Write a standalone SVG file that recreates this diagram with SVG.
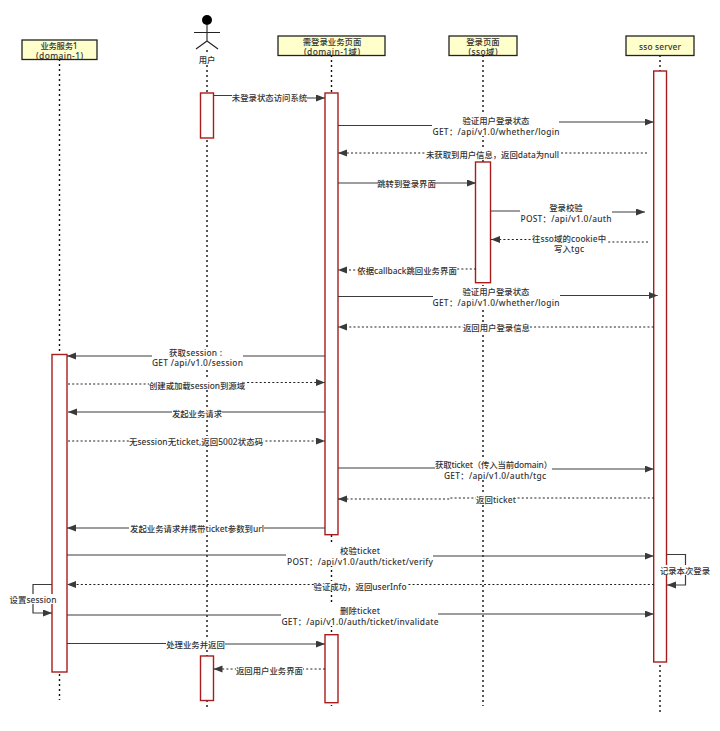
<svg xmlns="http://www.w3.org/2000/svg" width="720" height="731" viewBox="0 0 720 731">
<style>
text{font-family:"Noto Sans","Noto Sans CJK SC",sans-serif;font-size:8.4px;fill:#333;text-anchor:middle;dominant-baseline:central;font-weight:500}
.box{fill:#ffffcc;stroke:#222;stroke-width:1.3}
.life{stroke:#111;stroke-width:1.4;stroke-dasharray:2 3;fill:none}
.act{fill:#fff;stroke:#a81c1c;stroke-width:1.4}
.m{fill:none;stroke:#3c3c3c;stroke-width:1.2}
.a{marker-end:url(#arr)}
.d{stroke-dasharray:2 2.2;stroke:#222}
.bg{fill:#fff}
</style>
<defs>
<marker id="arr" markerUnits="userSpaceOnUse" markerWidth="10" markerHeight="8" refX="9" refY="3.5" orient="auto"><path d="M0 0L9 3.5L0 7Z" fill="#3a3a3a"/></marker>
</defs>
<g id="service1">
<line class="life" x1="59.5" y1="59" x2="59.5" y2="700"/>
<rect class="box" x="22" y="40" width="75" height="19.5"/>
<text x="59" y="45" textLength="37">业务服务1</text><text x="59.5" y="55" textLength="47">(domain-1)</text>
<rect class="act" x="52" y="354.5" width="15" height="317.5"/>
</g>
<g id="user">
<line class="life" x1="207" y1="50" x2="207" y2="707"/>
<circle cx="207" cy="20" r="5" fill="#000"/>
<path d="M207 25V41M194 32.5H220M196 49L207 41L218 49" fill="none" stroke="#222" stroke-width="1.1"/>
<rect class="bg" x="197" y="54" width="20" height="10"/><text x="207" y="59">用户</text>
<rect class="act" x="200.5" y="93" width="13" height="45"/>
<rect class="act" x="200.5" y="656" width="13" height="44.5"/>
</g>
<g id="page">
<line class="life" x1="331.5" y1="55" x2="331.5" y2="706"/>
<rect class="box" x="278" y="36" width="107" height="19.5"/>
<text x="332" y="41">需登录业务页面</text><text x="332" y="51" textLength="56">(domain-1域)</text>
<rect class="act" x="325" y="93" width="13" height="441.7"/>
<rect class="act" x="325" y="634.7" width="13" height="68"/>
</g>
<g id="login">
<line class="life" x1="483" y1="55" x2="483" y2="706"/>
<rect class="box" x="449" y="36" width="68" height="19.5"/>
<text x="483" y="41">登录页面</text><text x="483" y="51" textLength="29">(sso域)</text>
<rect class="act" x="475.5" y="162" width="15" height="120.7"/>
</g>
<g id="sso">
<line class="life" x1="660" y1="55" x2="660" y2="714"/>
<rect class="box" x="626" y="36" width="68" height="19.5"/>
<text x="660" y="46.5" textLength="42">sso server</text>
<rect class="act" x="653.7" y="71" width="12.8" height="591"/>
</g>
<g id="connectors">
<path class="m a" d="M213.5 95.5H250M290 98H325"/>
<path class="m a" d="M338 125.5H432M559 122H653.7"/>
<path class="m a d" d="M647 153H338"/>
<path class="m a" d="M338 183H476"/>
<path class="m a" d="M491 211H520M612 212H645"/>
<path class="m a d" d="M648 242H600M560 239.5H491"/>
<path class="m a d" d="M476 269H400V270H338"/>
<path class="m a" d="M338 296.5H433M560 295.5H657.7"/>
<path class="m a d" d="M653.7 327H338"/>
<path class="m a" d="M325 356H67"/>
<path class="m a d" d="M68 384H200V382.5H325"/>
<path class="m a" d="M325 412H68"/>
<path class="m a d" d="M68 441H325"/>
<path class="m a" d="M338 468H435M552 469H653.7"/>
<path class="m a d" d="M654 498H450V499H338"/>
<path class="m a" d="M325 528H67"/>
<path class="m a" d="M67 555H286M433 556H653.7"/>
<path class="m a d" d="M654 584.5H67"/>
<path class="m a" d="M52 584.5H33V613H52"/>
<path class="m a" d="M67 615H281M438 614H653.7"/>
<path class="m a" d="M67 643.5H200V644H325"/>
<path class="m a d" d="M325 669H213.5"/>
<path class="m a" d="M666.5 554.5H685.5V585H667"/>
<g id="labels">
<rect class="bg" x="232" y="92" width="75" height="10"/><text x="269.5" y="97">未登录状态访问系统</text>
<rect class="bg" x="432" y="115" width="127" height="21"/><text x="496" y="120">验证用户登录状态</text><text x="496" y="131" textLength="127">GET&#xFF1A;/api/v1.0/whether/login</text>
<rect class="bg" x="426" y="149" width="133" height="10"/><text x="492.5" y="154" textLength="133">未获取到用户信息&#xFF0C;返回data为null</text>
<rect class="bg" x="378" y="178" width="57" height="10"/><text x="406.5" y="183">跳转到登录界面</text>
<rect class="bg" x="520.5" y="202" width="91" height="21"/><text x="566" y="207">登录校验</text><text x="566" y="218" textLength="91">POST&#xFF1A;/api/v1.0/auth</text>
<rect class="bg" x="532" y="233" width="75" height="21"/><text x="569" y="238" textLength="74">往sso域的cookie中</text><text x="569" y="248" textLength="30">写入tgc</text>
<rect class="bg" x="357" y="265" width="100" height="10"/><text x="407" y="270" textLength="99.5">依据callback跳回业务界面</text>
<rect class="bg" x="433" y="286" width="127" height="21"/><text x="496" y="291">验证用户登录状态</text><text x="496" y="302" textLength="127">GET&#xFF1A;/api/v1.0/whether/login</text>
<rect class="bg" x="463" y="322" width="67" height="10"/><text x="496.5" y="327">返回用户登录信息</text>
<rect class="bg" x="152" y="347" width="91" height="21"/><text x="195.5" y="352" textLength="53">获取session :</text><text x="197.5" y="362" textLength="91">GET /api/v1.0/session</text>
<rect class="bg" x="149" y="380" width="96" height="10"/><text x="197" y="385" textLength="96">创建或加载session到源域</text>
<rect class="bg" x="172" y="408" width="50" height="10"/><text x="197" y="413">发起业务请求</text>
<rect class="bg" x="129" y="436" width="134" height="10"/><text x="196" y="441" textLength="134">无session无ticket,返回5002状态码</text>
<rect class="bg" x="435" y="459" width="117" height="21"/><text x="493.5" y="464" textLength="117">获取ticket&#xFF08;传入当前domain&#xFF09;</text><text x="495" y="475" textLength="102">GET&#xFF1A;/api/v1.0/auth/tgc</text>
<rect class="bg" x="476" y="494" width="40" height="10"/><text x="496" y="499" textLength="40">返回ticket</text>
<rect class="bg" x="129" y="523" width="135" height="10"/><text x="197" y="528" textLength="134">发起业务请求并携带ticket参数到url</text>
<rect class="bg" x="286.5" y="545" width="146.5" height="21"/><text x="360" y="550" textLength="40">校验ticket</text><text x="360" y="561" textLength="146">POST&#xFF1A;/api/v1.0/auth/ticket/verify</text>
<rect class="bg" x="314" y="581" width="93" height="10"/><text x="360" y="586" textLength="93">验证成功&#xFF0C;返回userInfo</text>
<rect class="bg" x="10" y="594" width="47" height="10"/><text x="33" y="599" textLength="47">设置session</text>
<rect class="bg" x="281" y="605" width="157" height="21"/><text x="360" y="610" textLength="40">删除ticket</text><text x="360" y="621" textLength="157">GET&#xFF1A;/api/v1.0/auth/ticket/invalidate</text>
<rect class="bg" x="166" y="639" width="59" height="10"/><text x="195.5" y="644">处理业务并返回</text>
<rect class="bg" x="236" y="665" width="67" height="10"/><text x="269.5" y="670">返回用户业务界面</text>
<rect class="bg" x="661" y="565" width="50" height="10"/><text x="685" y="570">记录本次登录</text>
</g>
</g>
</svg>
